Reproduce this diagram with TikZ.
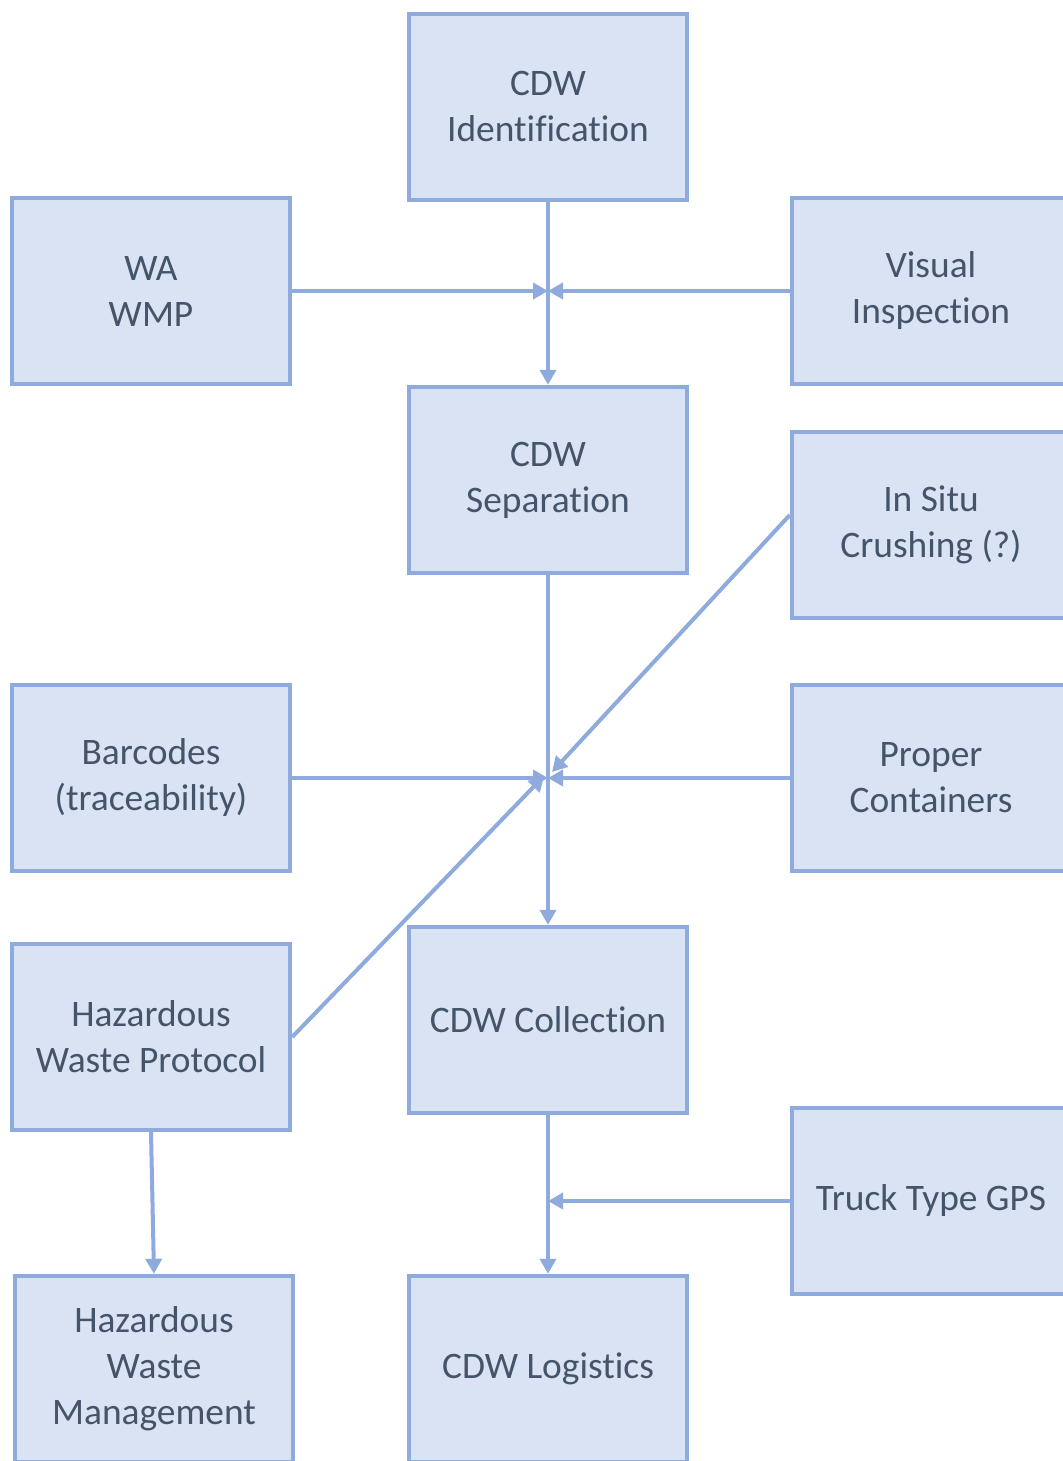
\documentclass[tikz,border=0pt]{standalone}
\usepackage{fontspec}
\setmainfont[Ligatures=NoCommon]{Carlito}
\usetikzlibrary{arrows.meta}
\definecolor{boxfill}{HTML}{DAE3F3}
\definecolor{boxline}{HTML}{8FAADC}
\definecolor{boxtext}{HTML}{44546A}
\tikzset{
  stage/.style={draw=boxline, fill=boxfill, line width=2.2pt, minimum width=139pt,
    minimum height=93pt, align=center, text=boxtext, inner sep=2pt,
    font=\fontsize{18.7pt}{23pt}\selectfont},
  flow/.style={draw=boxline, line width=2pt, -{Triangle[length=7.5pt,width=8pt]}}
}
\begin{document}
\begin{tikzpicture}[x=0.5pt,y=-0.5pt]

    % Page frame
    \useasboundingbox (0,0) rectangle (1063,1461);
    \clip (0,0) rectangle (1063,1461);

    % Main column
    \node[stage] (ident) at (548,107) {CDW\\Identification};
    \node[stage] (separ) at (548,480) {CDW\\Separation};
    \node[stage] (collect) at (548,1020) {CDW Collection};
    \node[stage] (logist) at (548,1369) {CDW Logistics};

    % Left column
    \node[stage] (wmp) at (151,291) {WA\\WMP};
    \node[stage] (barcode) at (151,778) {Barcodes\\(traceability)};
    \node[stage] (protocol) at (151,1037) {Hazardous\\Waste Protocol};
    \node[stage] (hazman) at (154,1369) {Hazardous\\Waste\\Management};

    % Right column
    \node[stage] (visual) at (931,291) {Visual\\Inspection};
    \node[stage] (crush) at (931,525) {In Situ\\Crushing (?)};
    \node[stage] (contain) at (931,778) {Proper\\Containers};
    \node[stage] (truck) at (931,1201) {Truck Type GPS};

    % Join points on the main column
    \coordinate (j1) at (548,291);
    \coordinate (j2) at (548,778);
    \coordinate (j3) at (548,1201);

    % Main flow
    \draw[flow] (ident) -- (separ);
    \draw[flow] (separ) -- (collect);
    \draw[flow] (collect) -- (logist);
    \draw[flow] (protocol.south) -- (hazman.north);

    % Side inputs
    \draw[flow] (wmp) -- (j1);
    \draw[flow] (visual) -- (j1);
    \draw[flow] (barcode) -- (j2);
    \draw[flow] (contain) -- (j2);
    \draw[flow] (truck) -- (j3);
    \draw[flow] ([yshift=5pt]crush.west) -- ([xshift=2pt,yshift=3pt]j2);
    \draw[flow] (protocol.east) -- ([xshift=-2pt,yshift=1pt]j2);
\end{tikzpicture}
\end{document}
